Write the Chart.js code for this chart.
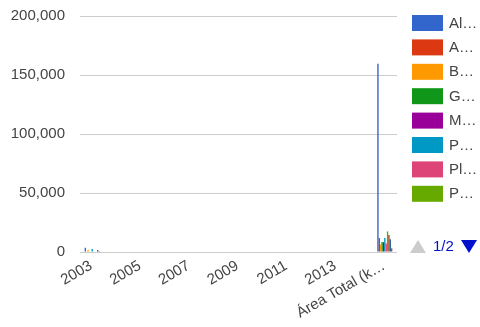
<!DOCTYPE html>
<html>
<head>
<meta charset="utf-8">
<script src="https://cdn.jsdelivr.net/npm/chart.js@4.4.1/dist/chart.umd.min.js"></script>
<style>
  html, body { margin: 0; padding: 0; background: #fff; }
  #wrap { position: relative; width: 480px; height: 327px; }
</style>
</head>
<body>
<div id="wrap"><canvas id="chart"></canvas></div>
<script>
const categories = ['2003', '2004', '2005', '2006', '2007', '2008', '2009', '2010', '2011', '2012', '2013', '2014', 'Área Total (km²)'];

const seriesNames = ['Altamira', 'Anapu', 'Brasil Novo', 'Gurupá', 'Medicilândia', 'Pacajá', 'Placas', 'Porto de Moz', 'Senador José Porfírio', 'Uruará', 'Vitória do Xingu'];
const seriesColors = ['#3366cc', '#dc3912', '#ff9900', '#109618', '#990099', '#0099c6', '#dd4477', '#66aa00', '#b82e2e', '#316395', '#994499'];

const altamira       = [3600, 0, 0, 0, 0, 0, 0, 0, 0, 0, 0, 0, 159533];
const anapu          = [0, 0, 0, 0, 0, 0, 0, 0, 0, 0, 0, 0, 11895];
const brasilNovo     = [1700, 0, 0, 0, 0, 0, 0, 0, 0, 0, 0, 0, 6368];
const gurupa         = [0, 0, 0, 0, 0, 0, 0, 0, 0, 0, 0, 0, 8570];
const medicilandia   = [0, 0, 0, 0, 0, 0, 0, 0, 0, 0, 0, 0, 8272];
const pacaja         = [2500, 0, 0, 0, 0, 0, 0, 0, 0, 0, 0, 0, 11832];
const placas         = [0, 0, 0, 0, 0, 0, 0, 0, 0, 0, 0, 0, 7173];
const portoDeMoz     = [0, 0, 0, 0, 0, 0, 0, 0, 0, 0, 0, 0, 17423];
const senadorJose    = [0, 0, 0, 0, 0, 0, 0, 0, 0, 0, 0, 0, 14374];
const uruara         = [1700, 0, 0, 0, 0, 0, 0, 0, 0, 0, 0, 0, 10791];
const vitoriaXingu   = [900, 0, 0, 0, 0, 0, 0, 0, 0, 0, 0, 0, 3089];

const seriesValues = [altamira, anapu, brasilNovo, gurupa, medicilandia, pacaja, placas, portoDeMoz, senadorJose, uruara, vitoriaXingu];

const yTicks = [0, 50000, 100000, 150000, 200000];
const legendPage = '1/2';
const legendPerPage = 8;

const FONT = '"Liberation Sans", Arial, sans-serif';

function fitText(ctx, text, maxW) {
    if (ctx.measureText(text).width <= maxW) return text;
    let s = text;
    while (s.length > 1 && ctx.measureText(s + '…').width > maxW) s = s.slice(0, -1);
    return s + '…';
}

// google-style legend on the right, with the pager under it
const sideLegend = {
    id: 'sideLegend',
    afterDraw(chart) {
        const ctx = chart.ctx;
        ctx.save();
        ctx.font = '15px ' + FONT;
        ctx.textBaseline = 'middle';
        ctx.textAlign = 'left';
        chart.data.datasets.slice(0, legendPerPage).forEach((ds, i) => {
            const top = 15 + i * 24.4;
            ctx.fillStyle = ds.backgroundColor;
            ctx.fillRect(412, top, 31, 16);
            ctx.fillStyle = '#444';
            ctx.fillText(fitText(ctx, ds.label, 29), 449, top + 8.5);
        });

        // pager
        ctx.fillStyle = '#cccccc';
        ctx.beginPath();
        ctx.moveTo(410, 253); ctx.lineTo(426, 253); ctx.lineTo(418, 240); ctx.closePath();
        ctx.fill();
        ctx.fillStyle = '#0011cc';
        ctx.fillText(legendPage, 433, 247);
        ctx.beginPath();
        ctx.moveTo(461, 240); ctx.lineTo(477, 240); ctx.lineTo(469, 253); ctx.closePath();
        ctx.fill();
        ctx.restore();
    }
};

new Chart(document.getElementById('chart'), {
    type: 'bar',
    data: {
        labels: categories,
        datasets: seriesNames.map((name, i) => ({
            label: name,
            data: seriesValues[i],
            backgroundColor: seriesColors[i],
            borderWidth: 0,
            categoryPercentage: 0.62,
            barPercentage: 1,
        })),
    },
    options: {
        responsive: true,
        maintainAspectRatio: false,
        animation: false,
        layout: { padding: { top: 16, right: 83, bottom: 0, left: 0 } },
        plugins: {
            legend: { display: false },
            tooltip: { enabled: false },
        },
        scales: {
            x: {
                grid: { display: false, drawTicks: false },
                border: { display: false },
                afterFit: scale => { scale.height = 75; },
                ticks: {
                    autoSkip: false,
                    minRotation: 30,
                    maxRotation: 30,
                    padding: 5,
                    labelOffset: -1,
                    color: '#444',
                    font: { family: FONT, size: 15 },
                    callback: function (value, index) {
                        if (index % 2 !== 0) return '';
                        const label = this.getLabelForValue(value);
                        return label.length > 14 ? label.slice(0, 13) + '…' : label;
                    },
                },
            },
            y: {
                min: yTicks[0],
                max: yTicks[yTicks.length - 1],
                afterFit: scale => { scale.width = 80; },
                afterBuildTicks: scale => { scale.ticks = yTicks.map(v => ({ value: v })); },
                // invisible tick marks give the gap between labels and plot
                grid: { color: '#cccccc', lineWidth: 1, drawTicks: true, tickLength: 15, tickColor: 'rgba(0,0,0,0)' },
                border: { display: false },
                ticks: {
                    padding: 0,
                    color: '#444',
                    font: { family: FONT, size: 15 },
                    callback: v => v.toLocaleString('en-US'),
                },
            },
        },
    },
    plugins: [sideLegend],
});
</script>
</body>
</html>
